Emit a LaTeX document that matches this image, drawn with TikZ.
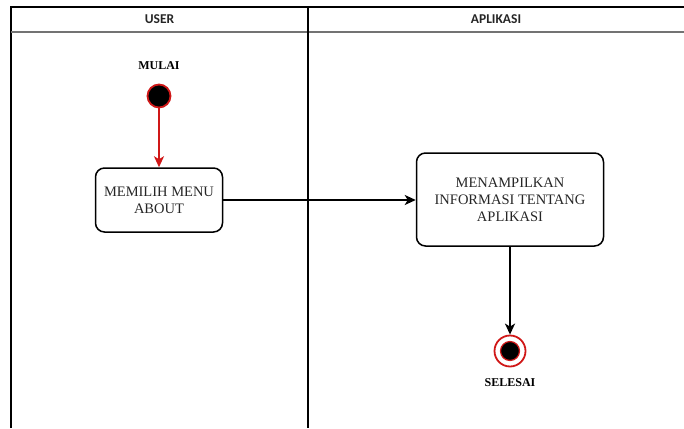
\documentclass[tikz,border=0pt]{standalone}
\usepackage{fontspec}
\setmainfont{Liberation Serif}
\newfontfamily\headfont{Carlito}
\usetikzlibrary{arrows.meta}
\definecolor{startred}{HTML}{D01818}
\tikzset{
  lane/.style={line width=1.2pt},
  lanehead/.style={font=\headfont\fontsize{13.5}{15}\selectfont\bfseries, text=black!85},
  actbox/.style={draw, line width=1.5pt, rounded corners=9pt, align=center,
    font=\fontsize{14.5}{17}\selectfont, text=black!85, inner sep=2pt},
  flow/.style={line width=1.9pt, -{Stealth[length=11pt,width=10pt,inset=3pt]}},
  lbl/.style={font=\fontsize{12}{14}\selectfont\bfseries}
}
\begin{document}
\begin{tikzpicture}[x=1pt,y=-1pt]
   \useasboundingbox (0,0) rectangle (684,428);

   % swimlanes
   \draw[lane] (11,428) -- (11,7) -- (684,7);
   \draw[lane, black!55] (11,32) -- (684,32);
   \draw[lane] (308,7) -- (308,428);
   \node[lanehead] (hUser) at (159.5,19.5) {USER};
   \node[lanehead] (hApp) at (496,19.5) {APLIKASI};

   % start
   \node[lbl] (lMulai) at (159,66) {MULAI};
   \node[circle, fill=black, draw=startred, line width=1.8pt, minimum size=23pt, inner sep=0pt] (start) at (159,96) {};

   \node[actbox, minimum width=127pt, minimum height=64pt] (menu) at (159,200) {MEMILIH MENU\\ABOUT};
   \node[actbox, minimum width=187pt, minimum height=93pt] (info) at (510,199.5) {MENAMPILKAN\\INFORMASI TENTANG\\APLIKASI};

   % end
   \node[circle, draw=startred, line width=1.8pt, minimum size=31pt, inner sep=0pt] (stop) at (510,351) {};
   \fill[black, draw=startred, line width=1.2pt] (stop.center) circle (9.5pt);
   \node[lbl] (lSelesai) at (510,383) {SELESAI};

   \draw[flow, startred] (start) -- (menu);
   \draw[flow] (menu.east) -- (menu.east -| info.west);
   \draw[flow] (info) -- (stop);
\end{tikzpicture}
\end{document}
